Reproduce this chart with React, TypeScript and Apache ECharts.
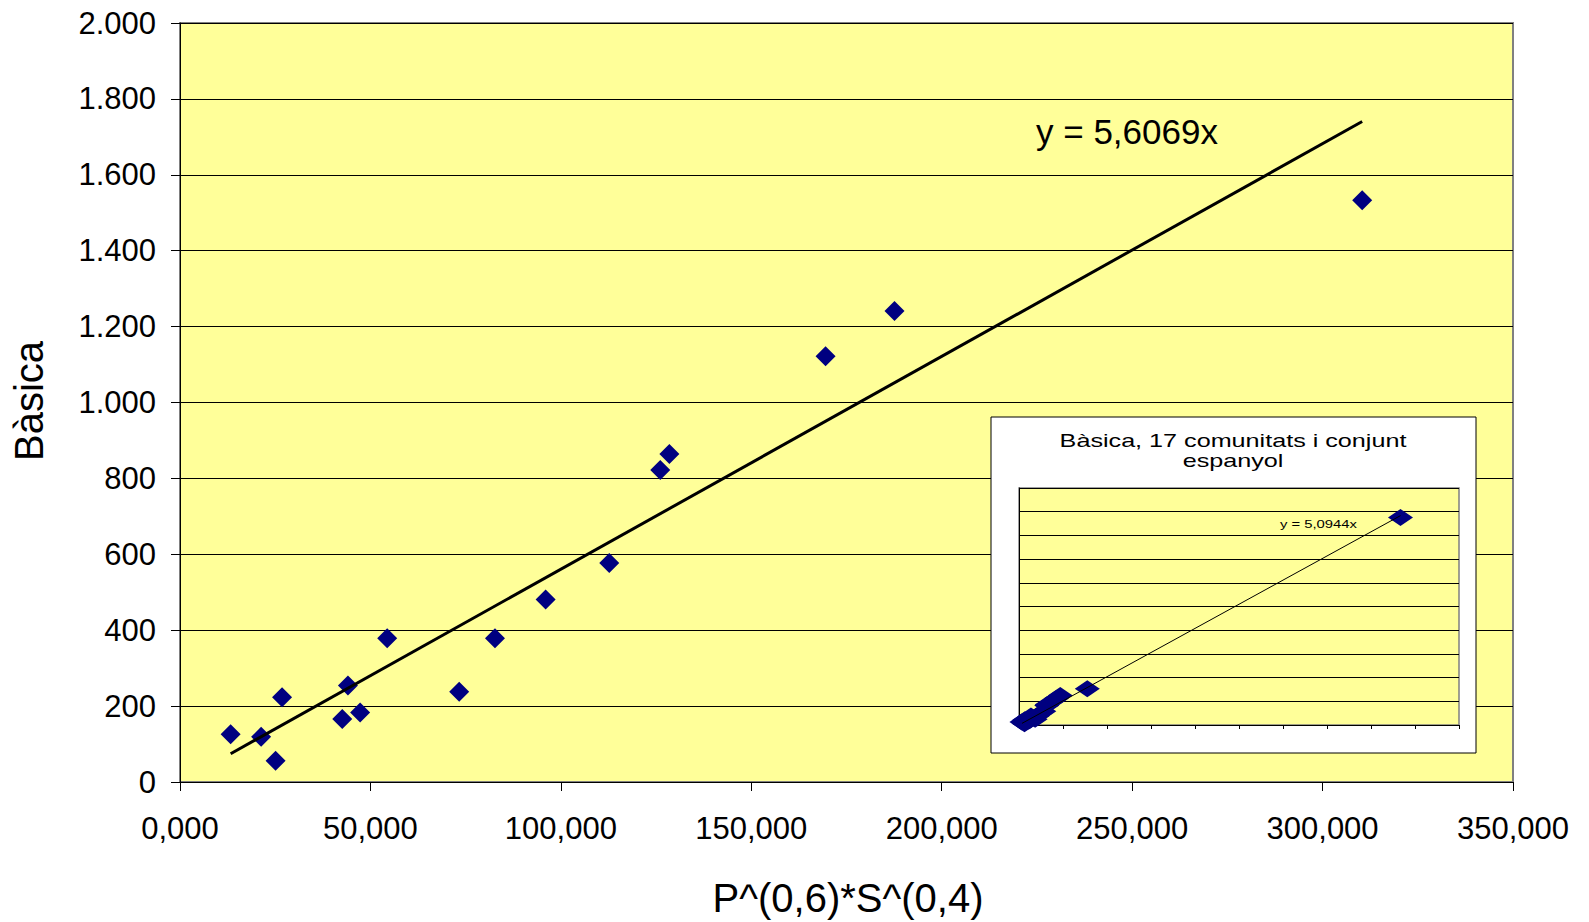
import React, { useEffect, useRef } from "react";
import * as echarts from "echarts";

// Main chart data (x in units of P^0.6*S^0.4, y = Bàsica)
const pointsX = [13.3, 21.3, 25.1, 26.8, 42.6, 44.1, 47.3, 54.4, 73.3, 82.7, 96.0, 112.7, 126.1, 128.5, 169.5, 187.6, 310.4];
const pointsY = [126, 119, 56, 223, 166, 254, 183, 379, 238, 379, 481, 577, 822, 864, 1122, 1241, 1533];
const mainSlope = 5.6069;
const mainEquation = "y = 5,6069x";

// Inset: 17 comunitats + conjunt espanyol
const spainX = 1734;
const spainY = 8760;
const insetSlope = 5.0944;
const insetEquation = "y = 5,0944x";
const insetTitle = ["Bàsica, 17 comunitats i conjunt", "espanyol"];

const xTitle = "P^(0,6)*S^(0,4)";
const yTitle = "Bàsica";

const FONT = '"Liberation Sans", Arial, sans-serif';

function fmtX(v: number) {
  return v.toFixed(3).replace(".", ",");
}
function fmtY(v: number) {
  if (v >= 1000) {
    const th = Math.floor(v / 1000);
    const rest = String(v % 1000).padStart(3, "0");
    return th + "." + rest;
  }
  return String(v);
}

export default function App() {
  const ref = useRef<HTMLDivElement>(null);
  useEffect(() => {
    document.body.style.margin = "0";
    const chart = echarts.init(ref.current!, undefined, { renderer: "svg" });
    const mainScatter = pointsX.map((x, i) => [x, pointsY[i]]);
    const minX = Math.min(...pointsX);
    const maxX = Math.max(...pointsX);
    const mainTrend = [minX, maxX].map((x) => [x, mainSlope * x]);
    const insetScatter = [...mainScatter, [spainX, spainY]];
    const insetTrend = [minX, spainX].map((x) => [x, insetSlope * x]);

    chart.setOption({
      animation: false,
      backgroundColor: "#ffffff",
      grid: [
        {
          left: 180,
          top: 23,
          width: 1333,
          height: 759,
          show: true,
          backgroundColor: "#FFFF99",
          borderColor: "#808080",
          borderWidth: 2,
        },
        {
          left: 1019,
          top: 488,
          width: 440,
          height: 237,
          show: true,
          backgroundColor: "#FFFF99",
          borderColor: "#808080",
          borderWidth: 1.5,
          z: 6,
        },
      ],
      xAxis: [
        {
          type: "value",
          gridIndex: 0,
          min: 0,
          max: 350,
          interval: 50,
          axisLine: { show: true, lineStyle: { color: "#000", width: 1 } },
          axisTick: { show: true, inside: false, length: 9, lineStyle: { color: "#000" } },
          axisLabel: {
            formatter: fmtX,
            color: "#000",
            fontSize: 31,
            fontFamily: FONT,
            margin: 31,
          },
          splitLine: { show: false },
        },
        {
          type: "value",
          gridIndex: 1,
          min: 0,
          max: 2000,
          interval: 200,
          z: 6,
          axisLine: { show: true, lineStyle: { color: "#000", width: 1 } },
          axisTick: { show: true, inside: false, length: 4, lineStyle: { color: "#000" } },
          axisLabel: { show: false },
          splitLine: { show: false },
        },
      ],
      yAxis: [
        {
          type: "value",
          gridIndex: 0,
          min: 0,
          max: 2000,
          interval: 200,
          axisLine: { show: true, lineStyle: { color: "#000", width: 1 } },
          axisTick: { show: true, inside: false, length: 9, lineStyle: { color: "#000" } },
          axisLabel: {
            formatter: fmtY,
            color: "#000",
            fontSize: 31,
            fontFamily: FONT,
            margin: 24,
          },
          splitLine: { show: true, lineStyle: { color: "#000", width: 1 } },
        },
        {
          type: "value",
          gridIndex: 1,
          min: 0,
          max: 10000,
          interval: 1000,
          z: 6,
          axisLine: { show: true, lineStyle: { color: "#000", width: 1 } },
          axisTick: { show: false },
          axisLabel: { show: false },
          splitLine: { show: true, lineStyle: { color: "#000", width: 1 } },
        },
      ],
      series: [
        {
          type: "scatter",
          xAxisIndex: 0,
          yAxisIndex: 0,
          data: mainScatter,
          symbol: "diamond",
          symbolSize: 20,
          itemStyle: { color: "#000080", opacity: 1 },
          z: 2,
        },
        {
          type: "line",
          xAxisIndex: 0,
          yAxisIndex: 0,
          data: mainTrend,
          symbol: "none",
          lineStyle: { color: "#000", width: 3 },
          z: 3,
        },
        {
          type: "scatter",
          xAxisIndex: 1,
          yAxisIndex: 1,
          data: insetScatter,
          symbol: "diamond",
          symbolSize: [25, 17],
          itemStyle: { color: "#000080", opacity: 1 },
          z: 7,
        },
        {
          type: "line",
          xAxisIndex: 1,
          yAxisIndex: 1,
          data: insetTrend,
          symbol: "none",
          lineStyle: { color: "#000", width: 1 },
          z: 8,
        },
      ],
      graphic: [
        {
          type: "rect",
          z: 5,
          shape: { x: 991, y: 417, width: 485, height: 336 },
          style: { fill: "#ffffff", stroke: "#000000", lineWidth: 1 },
        },
        {
          type: "text",
          z: 10,
          x: 1233,
          y: 441,
          scaleX: 1.36,
          style: {
            text: insetTitle[0],
            font: `18.5px ${FONT}`,
            fill: "#000",
            textAlign: "center",
            textVerticalAlign: "middle",
          },
        },
        {
          type: "text",
          z: 10,
          x: 1233,
          y: 461,
          scaleX: 1.36,
          style: {
            text: insetTitle[1],
            font: `18.5px ${FONT}`,
            fill: "#000",
            textAlign: "center",
            textVerticalAlign: "middle",
          },
        },
        {
          type: "text",
          z: 10,
          x: 1280,
          y: 525,
          scaleX: 1.48,
          style: {
            text: insetEquation,
            font: `10px ${FONT}`,
            fill: "#000",
            textAlign: "left",
            textVerticalAlign: "middle",
          },
        },
        {
          type: "text",
          z: 10,
          x: 1036,
          y: 131,
          style: {
            text: mainEquation,
            font: `35px ${FONT}`,
            fill: "#000",
            textAlign: "left",
            textVerticalAlign: "middle",
          },
        },
        {
          type: "text",
          z: 10,
          x: 848,
          y: 898,
          style: {
            text: xTitle,
            font: `40px ${FONT}`,
            fill: "#000",
            textAlign: "center",
            textVerticalAlign: "middle",
          },
        },
        {
          type: "text",
          z: 10,
          x: 29,
          y: 401,
          rotation: Math.PI / 2,
          style: {
            text: yTitle,
            font: `40px ${FONT}`,
            fill: "#000",
            textAlign: "center",
            textVerticalAlign: "middle",
          },
        },
      ],
    });
    return () => chart.dispose();
  }, []);
  return <div ref={ref} style={{ width: 1589, height: 922 }} />;
}
